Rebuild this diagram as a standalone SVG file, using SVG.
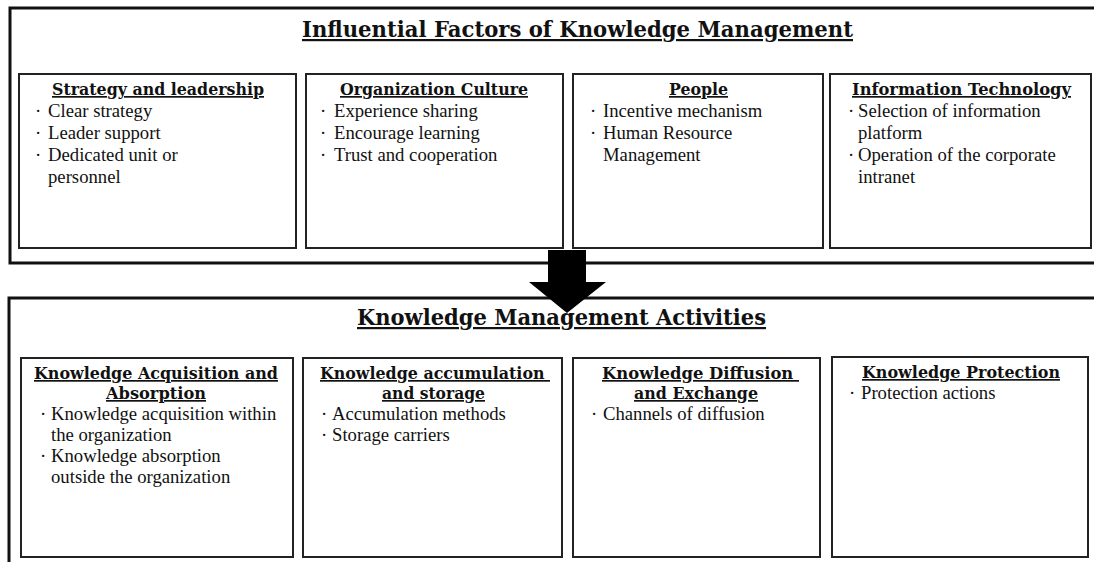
<svg xmlns="http://www.w3.org/2000/svg" width="1094" height="562" viewBox="0 0 1094 562">
<style>
.outer{fill:none;stroke:#111;stroke-width:3}
.box{fill:#fff;stroke:#222;stroke-width:2}
.title{font-family:"DejaVu Serif","Liberation Serif",serif;font-weight:bold;font-size:22px;fill:#111;text-decoration:underline}
.head{font-family:"DejaVu Serif","Liberation Serif",serif;font-weight:bold;font-size:17px;fill:#111;text-decoration:underline}
.item{font-family:"Liberation Serif","DejaVu Serif",serif;font-size:18.7px;fill:#111}
.arrow{fill:#000}
</style>
<rect width="1094" height="562" fill="#fff"/>

<g id="influential-factors">
<rect class="outer" x="10" y="8" width="1100" height="255"/>
<text class="title" x="302" y="37" textLength="551" lengthAdjust="spacingAndGlyphs">Influential Factors of Knowledge Management</text>
</g>

<g id="strategy-leadership">
<rect class="box" x="19" y="74" width="277" height="174"/>
<text class="head" x="52" y="95" textLength="212" lengthAdjust="spacingAndGlyphs">Strategy and leadership</text>
<text class="item" y="117"><tspan x="35">·</tspan><tspan x="48">Clear strategy</tspan></text>
<text class="item" y="139"><tspan x="35">·</tspan><tspan x="48">Leader support</tspan></text>
<text class="item" y="161"><tspan x="35">·</tspan><tspan x="48">Dedicated unit or</tspan></text>
<text class="item" x="48" y="183">personnel</text>
</g>

<g id="organization-culture">
<rect class="box" x="306" y="74" width="257" height="174"/>
<text class="head" x="340" y="95" textLength="188" lengthAdjust="spacingAndGlyphs">Organization Culture</text>
<text class="item" y="117"><tspan x="320">·</tspan><tspan x="334">Experience sharing</tspan></text>
<text class="item" y="139"><tspan x="320">·</tspan><tspan x="334">Encourage learning</tspan></text>
<text class="item" y="161"><tspan x="320">·</tspan><tspan x="334">Trust and cooperation</tspan></text>
</g>

<g id="people">
<rect class="box" x="573" y="74" width="250" height="174"/>
<text class="head" x="669" y="95" textLength="59" lengthAdjust="spacingAndGlyphs">People</text>
<text class="item" y="117"><tspan x="590">·</tspan><tspan x="603">Incentive mechanism</tspan></text>
<text class="item" y="139"><tspan x="590">·</tspan><tspan x="603">Human Resource</tspan></text>
<text class="item" x="603" y="161">Management</text>
</g>

<g id="information-technology">
<rect class="box" x="830" y="74" width="261" height="174"/>
<text class="head" x="852" y="95" textLength="219" lengthAdjust="spacingAndGlyphs">Information Technology</text>
<text class="item" y="117"><tspan x="848">·</tspan><tspan x="858">Selection of information</tspan></text>
<text class="item" x="858" y="139">platform</text>
<text class="item" y="161"><tspan x="848">·</tspan><tspan x="858">Operation of the corporate</tspan></text>
<text class="item" x="858" y="183">intranet</text>
</g>

<g id="km-activities">
<rect class="outer" x="9" y="298" width="1100" height="300"/>
<text class="title" x="357" y="325" textLength="409" lengthAdjust="spacingAndGlyphs">Knowledge Management Activities</text>
</g>

<g id="acquisition-absorption">
<rect class="box" x="21" y="358" width="272" height="199"/>
<text class="head" x="34" y="379" textLength="244" lengthAdjust="spacingAndGlyphs">Knowledge Acquisition and</text>
<text class="head" x="106" y="399" textLength="100" lengthAdjust="spacingAndGlyphs">Absorption</text>
<text class="item" y="420"><tspan x="40">·</tspan><tspan x="51">Knowledge acquisition within</tspan></text>
<text class="item" x="51" y="441">the organization</text>
<text class="item" y="462"><tspan x="40">·</tspan><tspan x="51">Knowledge absorption</tspan></text>
<text class="item" x="51" y="483">outside the organization</text>
</g>

<g id="accumulation-storage">
<rect class="box" x="303" y="358" width="259" height="199"/>
<text class="head" x="320" y="379" textLength="230" lengthAdjust="spacingAndGlyphs" xml:space="preserve">Knowledge accumulation </text>
<text class="head" x="382" y="399" textLength="103" lengthAdjust="spacingAndGlyphs">and storage</text>
<text class="item" y="420"><tspan x="321">·</tspan><tspan x="332">Accumulation methods</tspan></text>
<text class="item" y="441"><tspan x="321">·</tspan><tspan x="332">Storage carriers</tspan></text>
</g>

<g id="diffusion-exchange">
<rect class="box" x="573" y="358" width="247" height="199"/>
<text class="head" x="602" y="379" textLength="197" lengthAdjust="spacingAndGlyphs" xml:space="preserve">Knowledge Diffusion </text>
<text class="head" x="634" y="399" textLength="124" lengthAdjust="spacingAndGlyphs">and Exchange</text>
<text class="item" y="420"><tspan x="591">·</tspan><tspan x="603">Channels of diffusion</tspan></text>
</g>

<g id="protection">
<rect class="box" x="832" y="357" width="256" height="200"/>
<text class="head" x="862" y="378" textLength="198" lengthAdjust="spacingAndGlyphs">Knowledge Protection</text>
<text class="item" y="399"><tspan x="849">·</tspan><tspan x="861">Protection actions</tspan></text>
</g>

<g id="connectors">
<polygon class="arrow" points="548,250 586,250 586,282 606,282 567,313 529,282 548,282"/>
</g>
</svg>
